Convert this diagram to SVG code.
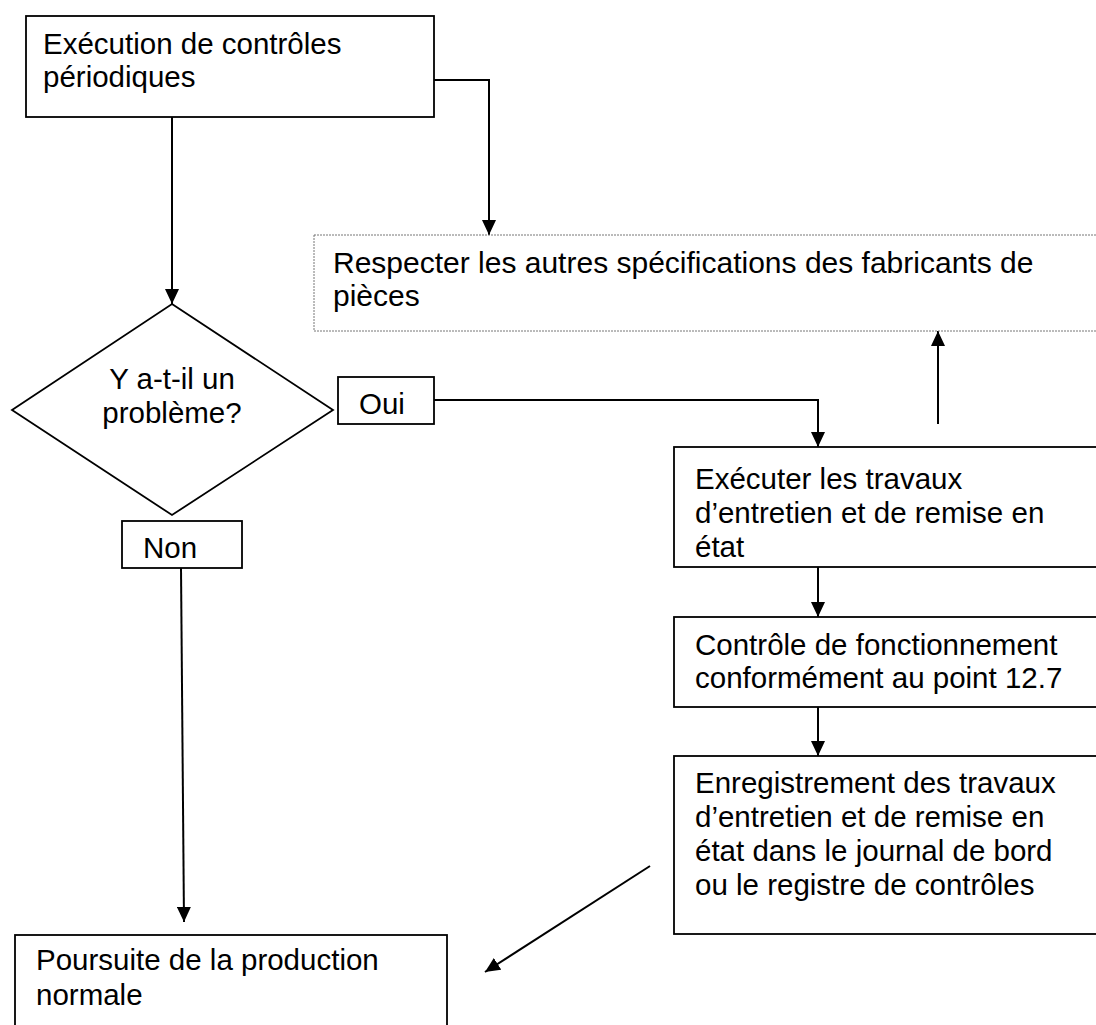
<svg xmlns="http://www.w3.org/2000/svg" width="1096" height="1025" viewBox="0 0 1096 1025">
<style>
.box{fill:#fff;stroke:#000;stroke-width:1.8}
.dot{fill:#fff;stroke:#777;stroke-width:1;stroke-dasharray:2 1}
.t{font-family:"Liberation Sans",Arial,sans-serif;font-size:29.5px;fill:#000}
.t30{font-size:30px}
.c{fill:none;stroke:#000;stroke-width:2}
</style>
<defs>
<marker id="ah" viewBox="0 0 15 14" refX="15" refY="7" markerWidth="15" markerHeight="14" markerUnits="userSpaceOnUse" orient="auto">
<path d="M0,0 L15,7 L0,14 z" fill="#000"/>
</marker>
</defs>
<rect width="1096" height="1025" fill="#fff"/>
<g id="connectors">
<line class="c" x1="172" y1="117" x2="172" y2="304" marker-end="url(#ah)"/>
<polyline class="c" points="434,80 489,80 489,235" marker-end="url(#ah)"/>
<polyline class="c" points="434,400 818,400 818,447" marker-end="url(#ah)"/>
<line class="c" x1="938" y1="424" x2="938" y2="331" marker-end="url(#ah)"/>
<line class="c" x1="818" y1="567" x2="818" y2="617" marker-end="url(#ah)"/>
<line class="c" x1="818" y1="707" x2="818" y2="756" marker-end="url(#ah)"/>
<line class="c" x1="650" y1="866" x2="485" y2="972" marker-end="url(#ah)"/>
<line class="c" x1="181" y1="568" x2="184" y2="922" marker-end="url(#ah)"/>
</g>
<g id="n1">
<rect class="box" x="26" y="16" width="408" height="101"/>
<text class="t" x="43" y="54">Exécution de contrôles</text>
<text class="t" x="43" y="87">périodiques</text>
</g>
<g id="n2">
<rect class="dot" x="314" y="235" width="790" height="96"/>
<text class="t t30" x="333" y="273">Respecter les autres spécifications des fabricants de</text>
<text class="t t30" x="333" y="306">pièces</text>
</g>
<g id="n3">
<polygon class="box" points="172,304 333,410 172,515 12,410"/>
<text class="t" x="172" y="389" text-anchor="middle">Y a-t-il un</text>
<text class="t" x="172" y="423" text-anchor="middle">problème?</text>
</g>
<g id="n4">
<rect class="box" x="338" y="377" width="96" height="47"/>
<text class="t" x="359" y="414">Oui</text>
</g>
<g id="n5">
<rect class="box" x="122" y="521" width="120" height="47"/>
<text class="t" x="143" y="558">Non</text>
</g>
<g id="n6">
<rect class="box" x="674" y="447" width="430" height="120"/>
<text class="t" x="695" y="489">Exécuter les travaux</text>
<text class="t" x="695" y="523">d’entretien et de remise en</text>
<text class="t" x="695" y="557">état</text>
</g>
<g id="n7">
<rect class="box" x="674" y="617" width="430" height="90"/>
<text class="t" x="695" y="655">Contrôle de fonctionnement</text>
<text class="t" x="695" y="688">conformément au point 12.7</text>
</g>
<g id="n8">
<rect class="box" x="674" y="756" width="430" height="178"/>
<text class="t" x="695" y="793">Enregistrement des travaux</text>
<text class="t" x="695" y="827">d’entretien et de remise en</text>
<text class="t" x="695" y="861">état dans le journal de bord</text>
<text class="t" x="695" y="895">ou le registre de contrôles</text>
</g>
<g id="n9">
<rect class="box" x="15" y="935" width="432" height="110"/>
<text class="t" x="36" y="970">Poursuite de la production</text>
<text class="t" x="36" y="1005">normale</text>
</g>
</svg>
